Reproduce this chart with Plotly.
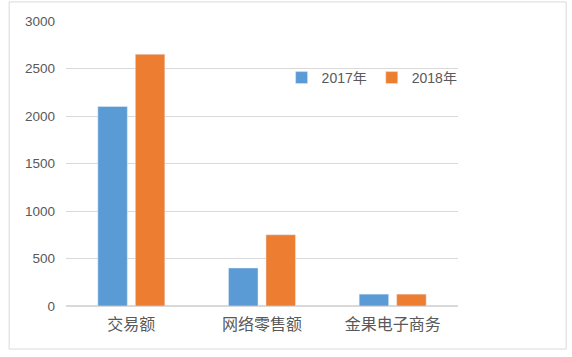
import plotly.graph_objects as go

categories = ["交易额", "网络零售额", "金果电子商务"]
series_2017 = [2100, 400, 125]
series_2018 = [2650, 750, 125]
series_names = ["2017年", "2018年"]
y_ticks = [0, 500, 1000, 1500, 2000, 2500, 3000]

fig = go.Figure()
fig.add_trace(go.Bar(x=categories, y=series_2017, name=series_names[0], marker_color="#5b9bd5"))
fig.add_trace(go.Bar(x=categories, y=series_2018, name=series_names[1], marker_color="#ed7d31"))

font_family = "Liberation Sans, Noto Sans CJK SC, sans-serif"
fig.update_layout(
    width=572, height=357,
    margin=dict(l=66, r=114, t=21, b=51),
    paper_bgcolor="white", plot_bgcolor="white",
    barmode="group", bargap=0.426, bargroupgap=0.213,
    font=dict(family=font_family, color="#595959", size=13),
    legend=dict(orientation="h", x=0.55, y=0.8, xanchor="left", yanchor="middle",
                font=dict(size=14, color="#595959"), itemwidth=30, bgcolor="rgba(0,0,0,0)",
                traceorder="normal"),
    xaxis=dict(showgrid=False, showline=False, ticks="", ticklabelstandoff=7,
               tickfont=dict(size=16, family="Noto Sans CJK SC")),
    yaxis=dict(range=[0, 3000], tickvals=y_ticks, showgrid=True, gridcolor="#d9d9d9",
               gridwidth=1, zeroline=True, zerolinecolor="#d9d9d9", showline=False,
               ticks="", tickfont=dict(size=13.5), ticklabelstandoff=10),
    shapes=[dict(type="rect", xref="paper", yref="paper", x0=-0.145, x1=1.276, y0=-0.151, y1=1.067,
                 line=dict(color="#d9d9d9", width=1), fillcolor="rgba(0,0,0,0)", layer="below")],
)
fig.write_html("out.html", config={"displayModeBar": False},
               post_script="document.body.style.margin='0px';document.body.style.padding='0px';")
